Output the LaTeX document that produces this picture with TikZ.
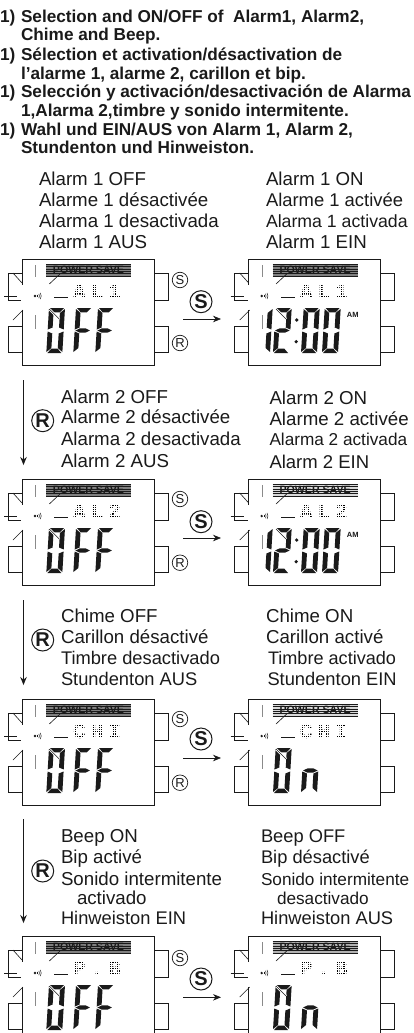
\documentclass[tikz,border=0pt]{standalone}
\usepackage{fontspec}
\setmainfont{Liberation Sans}
\newfontfamily\lcdfont[LetterSpace=24]{Liberation Mono}
\usetikzlibrary{arrows.meta}
\definecolor{ink}{HTML}{1A1A1A}
\definecolor{barcol}{HTML}{8A8A8A}
\newcommand\fs[1]{\fontsize{#1}{19}\selectfont}
\tikzset{
  lab/.style={anchor=base west,inner sep=0pt,outer sep=0pt,text=ink,font=\fs{18.7}},
  labs/.style={lab,font=\fs{18.3}},
  labt/.style={lab,font=\fs{17.2}},
  head/.style={anchor=base west,inner sep=0pt,outer sep=0pt,text=ink,font=\fontsize{17.2}{18}\selectfont\bfseries},
  lcdbox/.style={draw=ink,line width=0.9pt,fill=white,minimum width=132pt,minimum height=106pt,anchor=north west,inner sep=0pt,outer sep=0pt},
  tabline/.style={draw=ink,line width=0.7pt},
  tick/.style={draw=ink,line width=0.6pt},
  greybar/.style={draw=barcol,line width=1.5pt},
  smallc/.style={draw=ink,circle,line width=0.7pt,minimum size=15.5pt,inner sep=0pt,text=ink,font=\fontsize{13}{12}\selectfont},
  bigc/.style={draw=ink,circle,line width=1pt,minimum size=22pt,inner sep=0pt,text=ink,font=\fontsize{20}{19}\selectfont\bfseries},
  arr/.style={draw=ink,line width=0.7pt,-{Stealth[length=8pt,width=6.5pt]}},
  psave/.style={inner sep=0pt,text=ink,font=\fontsize{10.6}{11}\selectfont\bfseries},
  lcdtext/.style={anchor=base west,inner sep=0pt,text=black,font=\fontsize{21}{21}\lcdfont\bfseries},
  am/.style={anchor=base west,inner sep=0pt,text=ink,font=\fontsize{7.5}{8}\selectfont\bfseries}
}
% seven-segment LCD elements
\newcommand\segA{\fill[ink] (1,0)--(15,0)--(11,4.4)--(5,4.4)--cycle;}
\newcommand\segB{\fill[ink] (16,1)--(16,21.5)--(11.2,19.5)--(11.2,5)--cycle;}
\newcommand\segF{\fill[ink] (0,1)--(4.8,5)--(4.8,19.5)--(0,21.5)--cycle;}
\newcommand\segG{\fill[ink] (0.8,22.5)--(5,20.4)--(11,20.4)--(15.2,22.5)--(11,24.6)--(5,24.6)--cycle;}
\newcommand\segE{\fill[ink] (0,23.5)--(4.8,25.5)--(4.8,40)--(0,44)--cycle;}
\newcommand\segC{\fill[ink] (16,23.5)--(11.2,25.5)--(11.2,40)--(16,44)--cycle;}
\newcommand\segD{\fill[ink] (1,45)--(15,45)--(11,40.6)--(5,40.6)--cycle;}
\newcommand\lcddigit[2]{\begin{scope}[shift={(#1,49)},xslant=0.06]
  \foreach \s in {#2}{\csname seg\s\endcsname}\end{scope}}
\newcommand\rdOFF{\lcddigit{27}{A,B,C,D,E,F}\lcddigit{54}{A,F,G,E}\lcddigit{76}{A,F,G,E}}
\newcommand\rdON{\lcddigit{27}{A,B,C,D,E,F}\lcddigit{55}{G,E,C}}
\newcommand\rdTIME{\lcddigit{8}{B,C}\lcddigit{27}{A,B,G,E,D}%
  \fill[ink] (48,61) circle (1.8) (47.5,82.7) circle (1.8);%
  \lcddigit{55}{A,B,C,D,E,F}\lcddigit{76}{A,B,C,D,E,F}}
% #1 name, #2 x, #3 y, #4 power-save fill, #5 dot text, #6 readout
\newcommand\lcdwatch[6]{\begin{scope}[shift={(#2,#3)}]
  \draw[tabline] (0,14)--(-14,14)--(-14,41)--(0,41);
  \draw[tabline] (0,67)--(-14,67)--(-14,93)--(0,93);
  \draw[tabline] (132,14)--(146,14)--(146,41)--(132,41);
  \draw[tabline] (132,67)--(146,67)--(146,93)--(132,93);
  \node[lcdbox] (#1) at (0,0) {};
  \draw[white,line width=1.4pt] (0,26)--(0,50.5);
  \draw[tick,line width=0.9pt] (-18,37.5)--(-5,37.5);
  \draw[tick] (-9,14)--(0,24);
  \draw[tick] (-9,61)--(1,51);
  \draw[greybar] (13.7,6)--(13.7,18);
  \draw[greybar] (13.7,56)--(13.7,70);
  \fill[#4] (24,5) rectangle (109,17);
  \foreach \yy in {5,7.4,9.8,12.2,14.6,17}{\draw[ink,line width=0.4pt] (24,\yy)--(109,\yy);}
  \node[psave] (#1ps) at (66.5,11.3) {POWER SAVE};
  \draw[tick] (27.3,25)--(38,15);
  \fill[ink] (13,37) circle (1.3);
  \foreach \rr in {2.6,4.4,6.2}{\draw[ink,line width=0.5pt] ([shift={(-30:\rr)}]13,37) arc (-30:30:\rr);}
  \draw[ink,line width=0.8pt] (32.4,38)--(46.3,38);
  \node[lcdtext] (#1dm) at (51,39) {#5};
  \foreach \xx in {50,52.2,...,106}{\draw[white,line width=0.55pt] (\xx,22)--(\xx,41);}
  \foreach \yy in {22.6,24.8,...,41}{\draw[white,line width=0.55pt] (50,\yy)--(106,\yy);}
  #6
  \draw[white,line width=2.2pt] (27.8,50.5)--(37.3,60);
  \draw[tick] (27.3,50)--(37.3,60);
\end{scope}}
\begin{document}
\begin{tikzpicture}[x=1pt,y=-1pt]
\useasboundingbox (0,0) rectangle (413,1033);
\clip (0,0) rectangle (413,1033);
% heading
\node[head] (h1) at (0,22.7) {1)};  \node[head] (h1a) at (21,22.7) {Selection and ON/OFF of\ \ Alarm1, Alarm2,};
\node[head] (h1b) at (21,40.7) {Chime and Beep.};
\node[head] (h2) at (0,60) {1)};    \node[head] (h2a) at (21,60) {Sélection et activation/désactivation de};
\node[head] (h2b) at (21,79.3) {l’alarme 1, alarme 2, carillon et bip.};
\node[head] (h3) at (0,97.3) {1)};  \node[head] (h3a) at (21,97.3) {Selección y activación/desactivación de Alarma};
\node[head] (h3b) at (21,116) {1,Alarma 2,timbre y sonido intermitente.};
\node[head] (h4) at (0,135.7) {1)}; \node[head] (h4a) at (21,135.7) {Wahl und EIN/AUS von Alarm 1, Alarm 2,};
\node[head] (h4b) at (21,153.3) {Stundenton und Hinweiston.};
% row 1 labels
\node[lab] (l1a) at (39,185.5) {Alarm 1 OFF};
\node[lab] (l1b) at (39,206) {Alarme 1 désactivée};
\node[lab] (l1c) at (39,227.5) {Alarma 1 desactivada};
\node[lab] (l1d) at (39,248.5) {Alarm 1 AUS};
\node[lab] (r1a) at (266,185.5) {Alarm 1 ON};
\node[lab,font=\fs{18.4}] (r1b) at (266,206) {Alarme 1 activée};
\node[lab,font=\fs{17.7}] (r1c) at (266,227.5) {Alarma 1 activada};
\node[lab] (r1d) at (266,248.5) {Alarm 1 EIN};
% row 2 labels
\node[lab] (l2a) at (61,403.2) {Alarm 2 OFF};
\node[lab] (l2b) at (61,423.8) {Alarme 2 désactivée};
\node[lab] (l2c) at (61,445.5) {Alarma 2 desactivada};
\node[lab] (l2d) at (61,467.2) {Alarm 2 AUS};
\node[lab] (r2a) at (269.5,404.5) {Alarm 2 ON};
\node[lab] (r2b) at (269.5,425.5) {Alarme 2 activée};
\node[labt] (r2c) at (269.5,445.5) {Alarma 2 activada};
\node[lab,font=\fs{18.5}] (r2d) at (269.5,468.2) {Alarm 2 EIN};
% row 3 labels
\node[lab] (l3a) at (61,622.2) {Chime OFF};
\node[lab] (l3b) at (61,643.8) {Carillon désactivé};
\node[labs] (l3c) at (61,664.8) {Timbre desactivado};
\node[labs] (l3d) at (61,685.5) {Stundenton AUS};
\node[lab] (r3a) at (266,622.2) {Chime ON};
\node[lab] (r3b) at (266,643.8) {Carillon activé};
\node[lab,font=\fs{18.1}] (r3c) at (268,664.8) {Timbre activado};
\node[labs] (r3d) at (267.5,685.5) {Stundenton EIN};
% row 4 labels
\node[lab] (l4a) at (61,842.8) {Beep ON};
\node[lab] (l4b) at (61,863.8) {Bip activé};
\node[lab] (l4c) at (61,885.5) {Sonido intermitente};
\node[lab] (l4d) at (77,904.5) {activado};
\node[labs] (l4e) at (61,924.5) {Hinweiston EIN};
\node[labs] (r4a) at (261,842.8) {Beep OFF};
\node[labs] (r4b) at (261,863.8) {Bip désactivé};
\node[labt] (r4c) at (261,885.5) {Sonido intermitente};
\node[labt] (r4d) at (277,904.5) {desactivado};
\node[labs] (r4e) at (261,924.5) {Hinweiston AUS};
% watches
\lcdwatch{wa}{22}{259}{gray}{AL1}{\rdOFF}
\lcdwatch{wb}{248.7}{259}{gray}{AL1}{\rdTIME\node[am] (amb) at (98,58) {AM};}
\lcdwatch{wc}{22}{479}{gray}{AL2}{\rdOFF}
\lcdwatch{wd}{248.7}{479}{gray!30}{AL2}{\rdTIME\node[am] (amd) at (98,58) {AM};}
\lcdwatch{we}{22}{699}{gray}{CHI}{\rdOFF}
\lcdwatch{wf}{248.7}{699}{gray!30}{CHI}{\rdON}
\lcdwatch{wg}{22}{936}{gray}{P.B}{\rdOFF}
\lcdwatch{wh}{248.7}{936}{gray!60}{P.B}{\rdON}
% small key marks
\node[smallc] (sa) at (180,280) {S};
\node[smallc] (ra) at (180,343) {R};
\node[smallc] (sc) at (180,499) {S};
\node[smallc] (rc) at (180,562.7) {R};
\node[smallc] (se) at (180,719) {S};
\node[smallc] (re) at (180,782.7) {R};
\node[smallc] (sg) at (180,958) {S};
% big key marks
\node[bigc] (ba) at (201,301.7) {S};
\node[bigc] (bc) at (201,521.7) {S};
\node[bigc] (be) at (201,739) {S};
\node[bigc] (bg) at (201,979) {S};
\node[bigc] (bra) at (42.7,420.7) {R};
\node[bigc] (brb) at (42.7,640) {R};
\node[bigc] (brc) at (42.7,871) {R};
% connectors
\coordinate (a1s) at (183,319); \coordinate (a1e) at (221,319);
\coordinate (a2s) at (183,538); \coordinate (a2e) at (221,538);
\coordinate (a3s) at (183,758); \coordinate (a3e) at (221,758);
\coordinate (a4s) at (183,997.3); \coordinate (a4e) at (221,997.3);
\coordinate (v1s) at (23.5,380); \coordinate (v1e) at (23.5,465);
\coordinate (v2s) at (23.5,600); \coordinate (v2e) at (23.5,685);
\coordinate (v3s) at (23.5,819); \coordinate (v3e) at (23.5,923);
\draw[arr] (a1s)--(a1e);
\draw[arr] (a2s)--(a2e);
\draw[arr] (a3s)--(a3e);
\draw[arr] (a4s)--(a4e);
\draw[arr] (v1s)--(v1e);
\draw[arr] (v2s)--(v2e);
\draw[arr] (v3s)--(v3e);
\end{tikzpicture}
\end{document}
